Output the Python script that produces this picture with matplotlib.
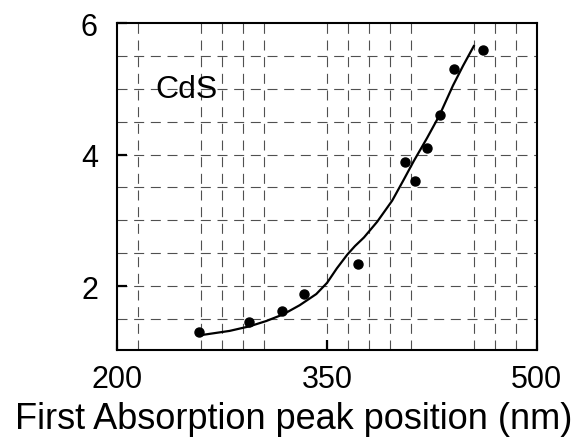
import numpy as np
import matplotlib
matplotlib.use('Agg')
import matplotlib.pyplot as plt

plt.rcParams['font.family'] = ['Liberation Sans', 'DejaVu Sans']

# Messpunkte CdS
peak_nm = [258.5, 293.9, 318.1, 333.6, 372.1, 405.8, 412.9, 421.7, 430.8, 441.1, 461.4]
size_nm = [1.30, 1.45, 1.62, 1.88, 2.34, 3.89, 3.60, 4.10, 4.60, 5.30, 5.59]

# Ausgleichskurve
fit_x = [261.2, 280.3, 294.6, 306.5, 318.5, 330.4, 342.3, 350.0, 357.0, 364.5,
         370.0, 376.4, 385.9, 396.6, 404.9, 412.0, 421.5, 430.5, 440.1, 447.3, 455.0]
fit_y = [1.26, 1.32, 1.39, 1.47, 1.57, 1.71, 1.88, 2.05, 2.27, 2.48,
         2.61, 2.74, 2.98, 3.30, 3.62, 3.90, 4.25, 4.60, 5.05, 5.35, 5.65]

# Gitterlinien
x_grid = [215, 260, 275, 290, 305, 350, 365, 380, 395, 410, 455, 470, 485]
y_grid = [1.5, 2, 2.5, 3, 3.5, 4, 4.5, 5, 5.5]

fig = plt.figure(figsize=(5.78, 4.39), dpi=100)
ax = fig.add_axes([0.203, 0.2005, 0.7256, 0.7448])

ax.set_xlim(200, 500)
ax.set_ylim(1.03, 6)

ax.set_xticks([200, 350, 500])
ax.set_yticks([2, 4, 6])

gridstyle = dict(color='#505050', linewidth=0.8, linestyle=(0, (9, 6)))
for xv in x_grid:
    ax.axvline(xv, zorder=0, **gridstyle)
for yv in y_grid:
    ax.axhline(yv, zorder=0, **gridstyle)

ax.plot(fit_x, fit_y, 'k-', linewidth=1.6, zorder=2)
ax.plot(peak_nm, size_nm, 'ko', markersize=6.5, zorder=3)

ax.text(227, 5.0, 'CdS', fontsize=23, va='center', ha='left')

ax.tick_params(which='major', direction='in', length=7, width=1.6,
               labelsize=22)
ax.tick_params(axis='x', which='major', pad=10)
ax.tick_params(axis='y', which='major', pad=14)
for s in ax.spines.values():
    s.set_linewidth(1.5)

ax.set_xlabel('First Absorption peak position (nm)', fontsize=26)
ax.xaxis.set_label_coords(0.421, -0.155)

fig.savefig('out.png', dpi=100)
